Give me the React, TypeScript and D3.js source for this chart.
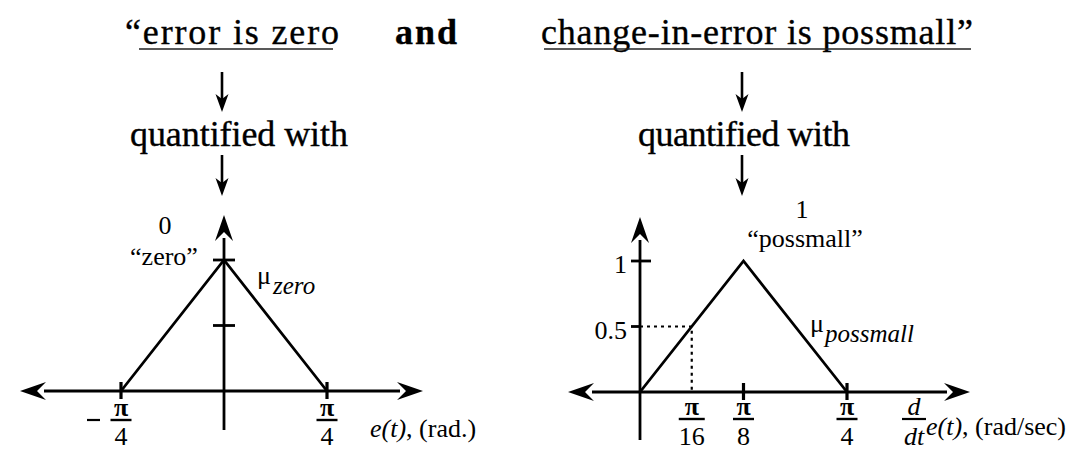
import React from "react";
import * as d3 from "d3";

// Membership functions (breakpoints, membership)
const zeroX = [-Math.PI / 4, 0, Math.PI / 4];
const zeroMu = [0, 1, 0];
const possX = [0, Math.PI / 8, Math.PI / 4];
const possMu = [0, 1, 0];

// Axis ticks
const zeroXTicks = [
  { v: -Math.PI / 4, num: "π", den: "4", neg: true },
  { v: Math.PI / 4, num: "π", den: "4", neg: false },
];
const zeroYTicks = [0.5, 1];
const possXTicks = [
  { v: Math.PI / 16, num: "π", den: "16", tick: false },
  { v: Math.PI / 8, num: "π", den: "8", tick: true },
  { v: Math.PI / 4, num: "π", den: "4", tick: true },
];
const possYTicks = [
  { v: 0.5, label: "0.5" },
  { v: 1, label: "1" },
];
// Sample input
const sampleInput = Math.PI / 16;
const sampleMu = 0.5;

const FONT = "'Liberation Serif', 'Times New Roman', serif";
const LABEL = 26;

function arrowHead(tx: number, ty: number, angle: number, L = 26, W = 9, notch = 9) {
  const pts: [number, number][] = [
    [0, 0],
    [-L, -W],
    [-L + notch, 0],
    [-L, W],
  ];
  const c = Math.cos(angle), s = Math.sin(angle);
  return (
    "M" +
    pts.map(([x, y]) => `${tx + x * c - y * s},${ty + x * s + y * c}`).join("L") +
    "Z"
  );
}

function DownArrow({ x, y1, y2 }: { x: number; y1: number; y2: number }) {
  return (
    <g>
      <line x1={x} y1={y1} x2={x} y2={y2 - 10} stroke="#000" strokeWidth={2.6} />
      <path d={arrowHead(x, y2, Math.PI / 2, 18, 6.5, 5)} fill="#000" />
    </g>
  );
}

function Fraction({ x, num, den, yNum, yBar, yDen, w }: any) {
  return (
    <g fontFamily={FONT} fontSize={LABEL} textAnchor="middle">
      <text x={x} y={yNum} fontWeight="bold">{num}</text>
      <line x1={x - w / 2} x2={x + w / 2} y1={yBar} y2={yBar} stroke="#000" strokeWidth={2.4} />
      <text x={x} y={yDen}>{den}</text>
    </g>
  );
}

export default function App() {
  // left plot scales
  const xL = d3.scaleLinear().domain([-Math.PI / 4, Math.PI / 4]).range([121, 327]);
  const yL = d3.scaleLinear().domain([0, 1]).range([391, 260]);
  // right plot scales
  const xR = d3.scaleLinear().domain([0, Math.PI / 4]).range([640, 847]);
  const yR = d3.scaleLinear().domain([0, 1]).range([392, 261]);

  const lineL = d3
    .line<number>()
    .x((_, i) => xL(zeroX[i]))
    .y((d) => yL(d));
  const lineR = d3
    .line<number>()
    .x((_, i) => xR(possX[i]))
    .y((d) => yR(d));

  const axisW = 2.8;

  return (
    <svg
      width={1088}
      height={452}
      style={{ position: "absolute", left: 0, top: 0, background: "#fff" }}
      fontFamily={FONT}
    >
      <rect width={1088} height={452} fill="#fff" />

      {/* Title line */}
      <g fontSize={36} fill="#000" stroke="#000" strokeWidth={0.35}>
        <text x={125} y={44} textLength={214} lengthAdjust="spacing">“error is zero</text>
        <text x={395} y={44} fontWeight="bold" textLength={62} lengthAdjust="spacing">and</text>
        <text x={541} y={44} textLength={432} lengthAdjust="spacing">change-in-error is possmall”</text>
      </g>
      <line x1={139} x2={333} y1={49} y2={49} stroke="#222" strokeWidth={1.6} />
      <line x1={544} x2={971} y1={49} y2={49} stroke="#222" strokeWidth={1.6} />

      {/* Arrows and "quantified with" */}
      <DownArrow x={222} y1={72} y2={112} />
      <DownArrow x={742} y1={72} y2={112} />
      <g fontSize={36} fill="#000" stroke="#000" strokeWidth={0.35}>
        <text x={130} y={146} textLength={218} lengthAdjust="spacing">quantified with</text>
        <text x={638} y={146} textLength={212} lengthAdjust="spacing">quantified with</text>
      </g>
      <DownArrow x={222} y1={155} y2={196} />
      <DownArrow x={742} y1={155} y2={196} />

      {/* ---------- Left plot: mu_zero ---------- */}
      <g>
        <line x1={44} x2={400} y1={yL(0)} y2={yL(0)} stroke="#000" strokeWidth={axisW} />
        <path d={arrowHead(20, yL(0), Math.PI)} fill="#000" />
        <path d={arrowHead(423, yL(0), 0)} fill="#000" />
        <line x1={xL(0)} x2={xL(0)} y1={238} y2={430} stroke="#000" strokeWidth={axisW} />
        <path d={arrowHead(xL(0), 215, -Math.PI / 2)} fill="#000" />
        {zeroYTicks.map((v) => (
          <line key={v} x1={xL(0) - 11} x2={xL(0) + 11} y1={yL(v)} y2={yL(v)} stroke="#000" strokeWidth={2.8} />
        ))}
        {zeroXTicks.map((t) => (
          <line key={t.v} x1={xL(t.v)} x2={xL(t.v)} y1={yL(0) - 9} y2={yL(0) + 8} stroke="#000" strokeWidth={3.2} />
        ))}
        <path d={lineL(zeroMu) || ""} fill="none" stroke="#000" strokeWidth={2.8} strokeLinejoin="miter" />
        {zeroXTicks.map((t) => (
          <g key={"l" + t.v}>
            <Fraction x={xL(t.v)} num={t.num} den={t.den} yNum={416} yBar={420} yDen={445} w={21} />
            {t.neg && <line x1={87} x2={100} y1={420} y2={420} stroke="#000" strokeWidth={2.2} />}
          </g>
        ))}
        <text x={165} y={234} fontSize={LABEL} textAnchor="middle">0</text>
        <text x={164} y={265} fontSize={LABEL} textAnchor="middle">“zero”</text>
        <text x={257} y={284} fontSize={LABEL}>μ</text>
        <text x={273} y={294} fontSize={25} fontStyle="italic">zero</text>
        <text x={370} y={437} fontSize={LABEL}>
          <tspan fontStyle="italic">e(t)</tspan>, (rad.)
        </text>
      </g>

      {/* ---------- Right plot: mu_possmall ---------- */}
      <g>
        <line x1={592} x2={947} y1={yR(0)} y2={yR(0)} stroke="#000" strokeWidth={axisW} />
        <path d={arrowHead(568, yR(0), Math.PI)} fill="#000" />
        <path d={arrowHead(970, yR(0), 0)} fill="#000" />
        <line x1={xR(0)} x2={xR(0)} y1={240} y2={440} stroke="#000" strokeWidth={axisW} />
        <path d={arrowHead(xR(0), 217, -Math.PI / 2)} fill="#000" />
        {possYTicks.map((t) => (
          <g key={t.label}>
            <line
              x1={xR(0) - 9}
              x2={xR(0) + (t.v === 1 ? 11 : 0)}
              y1={yR(t.v)}
              y2={yR(t.v)}
              stroke="#000"
              strokeWidth={2.8}
            />
            <text x={627} y={yR(t.v) + 12} fontSize={LABEL} textAnchor="end">{t.label}</text>
          </g>
        ))}
        {possXTicks
          .filter((t) => t.tick)
          .map((t) => (
            <line key={t.v} x1={xR(t.v)} x2={xR(t.v)} y1={yR(0) - 9} y2={yR(0) + 8} stroke="#000" strokeWidth={3.2} />
          ))}
        <path
          d={`M${xR(0)},${yR(sampleMu)}H${xR(sampleInput)}V${yR(0)}`}
          fill="none"
          stroke="#000"
          strokeWidth={2.2}
          strokeDasharray="3,4"
        />
        <path d={lineR(possMu) || ""} fill="none" stroke="#000" strokeWidth={2.8} strokeLinejoin="miter" />
        {possXTicks.map((t) => (
          <Fraction key={"f" + t.v} x={xR(t.v)} num={t.num} den={t.den} yNum={415} yBar={419} yDen={445} w={t.den.length > 1 ? 26 : 21} />
        ))}
        <text x={802} y={218} fontSize={LABEL} textAnchor="middle">1</text>
        <text x={805} y={247} fontSize={LABEL} textAnchor="middle">“possmall”</text>
        <text x={810} y={332} fontSize={LABEL}>μ</text>
        <text x={825} y={342} fontSize={25} fontStyle="italic">possmall</text>
        <g fontSize={LABEL} fontStyle="italic" textAnchor="middle">
          <text x={914} y={415}>d</text>
          <line x1={902} x2={926} y1={419} y2={419} stroke="#000" strokeWidth={2.2} />
          <text x={914} y={445}>dt</text>
        </g>
        <text x={926} y={435} fontSize={LABEL}>
          <tspan fontStyle="italic">e(t)</tspan>, (rad/sec)
        </text>
      </g>
    </svg>
  );
}
